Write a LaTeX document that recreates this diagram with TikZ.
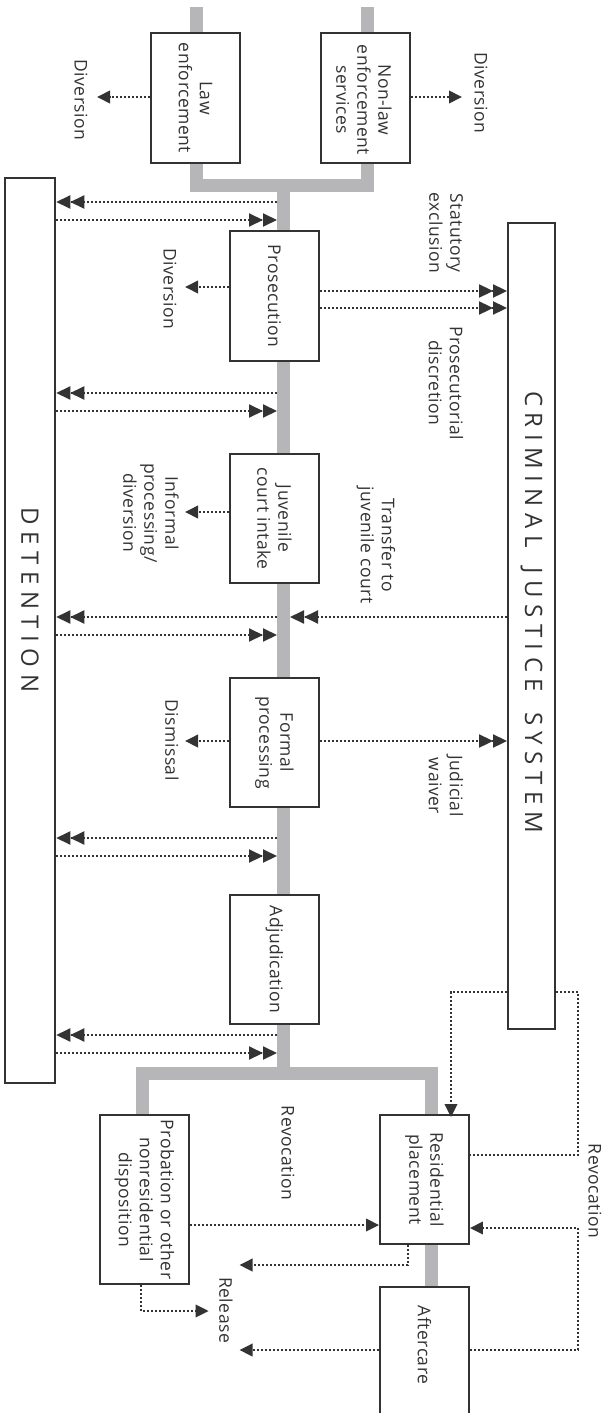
\documentclass[tikz,border=0pt]{standalone}
\usepackage{fontspec}
\setmainfont{Open Sans}
\newfontfamily\bodyfont[LetterSpace=3]{Open Sans}
\usetikzlibrary{arrows.meta}
\definecolor{ink}{HTML}{333333}
\definecolor{pipe}{HTML}{B6B6B9}
\definecolor{txt}{HTML}{333333}
\newcommand{\lsp}{\kern6.5pt}
\tikzset{
  box/.style={draw=ink, line width=1.9pt, fill=white, minimum width=89pt, inner sep=0pt},
  pipeline/.style={draw=pipe, line width=13pt, line join=miter},
  flow/.style={draw=ink, line width=2pt, dash pattern=on 2pt off 2pt},
  one/.style={-{Triangle[length=13pt,width=12.5pt]}},
  two/.style={-{Triangle[length=14pt,width=13pt] Triangle[length=14pt,width=13pt]}},
  lbl/.style={text=txt, font=\bodyfont\fontsize{17.5}{21}\selectfont, align=center, rotate=-90, inner sep=0pt},
  big/.style={text=txt, font=\fontsize{24}{28}\selectfont, rotate=-90, inner sep=0pt},
}
\begin{document}
\begin{tikzpicture}[x=1pt,y=-1pt]
\useasboundingbox (0,0) rectangle (606,1413);
\clip (0,0) rectangle (606,1413);
% pipeline coordinates
\coordinate (top1) at (196,7);
\coordinate (top2) at (367,7);
\coordinate (j1) at (283.5,185.5);
\coordinate (j2) at (283.5,1073);
\coordinate (bl) at (142,1120);
\coordinate (br) at (431.5,1300);
\draw[pipeline] (top1) -- (top1 |- j1) -- (top2 |- j1) -- (top2);
\draw[pipeline] (j1) -- (j2);
\draw[pipeline] (bl) -- (bl |- j2) -- (br |- j2) -- (br);
% boxes
\node[box, minimum height=130pt] (law) at (195.5,98) {};
\node[box, minimum height=130pt] (nonlaw) at (365.5,98) {};
\node[box, minimum height=130pt] (pros) at (274.5,296) {};
\node[box, minimum height=129pt] (juv) at (274.5,518.5) {};
\node[box, minimum height=129pt] (formal) at (274.5,742.5) {};
\node[box, minimum height=129pt] (adj) at (274.5,959.5) {};
\node[box, minimum height=169pt] (prob) at (144.3,1199.5) {};
\node[box, minimum height=129pt] (resid) at (424.5,1179.5) {};
\node[box, minimum height=143pt] (after) at (424.5,1358.5) {};
\node[box, minimum width=50.6pt, minimum height=905pt] (det) at (30,630.5) {};
\node[box, minimum width=47pt, minimum height=806pt] (cjs) at (531.5,626) {};
% box texts
\node[lbl] (tlaw) at (law.center) {Law\\enforcement};
\node[lbl] (tnonlaw) at (364,100) {Non-law\\enforcement\\services};
\node[lbl] (tpros) at (pros.center) {Prosecution};
\node[lbl] (tjuv) at (juv.center) {Juvenile\\court intake};
\node[lbl] (tformal) at (formal.center) {Formal\\processing};
\node[lbl] (tadj) at (adj.center) {Adjudication};
\node[lbl] (tprob) at (prob.center) {Probation or other\\nonresidential\\disposition};
\node[lbl] (tresid) at (resid.center) {Residential\\placement};
\node[lbl] (tafter) at (424.5,1345) {Aftercare};
\node[big] (tdet) at (30,600) {D\lsp E\lsp T\lsp E\lsp N\lsp T\lsp I\lsp O\lsp N};
\node[big] (tcjs) at (531.5,612) {C\lsp R\lsp I\lsp M\lsp I\lsp N\lsp A\lsp L\kern20pt J\lsp U\lsp S\lsp T\lsp I\lsp C\lsp E\kern20pt S\lsp Y\lsp S\lsp T\lsp E\lsp M};
% free labels
\node[lbl] (ldiv1) at (81,100) {Diversion};
\node[lbl] (ldiv2) at (481,93) {Diversion};
\node[lbl] (ldiv3) at (170,289) {Diversion};
\node[lbl] (lstat) at (446,233) {Statutory\\exclusion};
\node[lbl] (lpdisc) at (446,383) {Prosecutorial\\discretion};
\node[lbl] (linf) at (151,513) {Informal\\processing/\\diversion};
\node[lbl] (ltrans) at (376,545) {Transfer to\\juvenile court};
\node[lbl] (ldism) at (172,740) {Dismissal};
\node[lbl] (ljud) at (446,786) {Judicial\\waiver};
\node[lbl] (lrev1) at (288,1153) {Revocation};
\node[lbl] (lrev2) at (595,1191) {Revocation};
\node[lbl] (lrel) at (226,1310) {Release};
% diversion arrows
\coordinate (d1) at (97,97);
\coordinate (d2) at (462,97);
\coordinate (d3) at (185,287);
\coordinate (d4) at (185,512);
\coordinate (d5) at (185,741);
\draw[flow,one] (law.west |- d1) -- (d1);
\draw[flow,one] (nonlaw.east |- d2) -- (d2);
\draw[flow,one] (pros.west |- d3) -- (d3);
\draw[flow,one] (juv.west |- d4) -- (d4);
\draw[flow,one] (formal.west |- d5) -- (d5);
% detention exchanges
\foreach \ya/\yb [count=\i] in {202/220, 393/411, 617/635, 838/856, 1035/1053}{
  \coordinate (a\i) at (277,\ya);
  \coordinate (b\i) at (277,\yb);
  \draw[flow,two] (a\i) -- (det.east |- a\i);
  \draw[flow,two] (det.east |- b\i) -- (b\i);
}
% criminal justice system exchanges
\coordinate (p1) at (0,291);
\coordinate (p2) at (0,308);
\coordinate (p3) at (290,617);
\coordinate (p4) at (0,741);
\draw[flow,two] (pros.east |- p1) -- (cjs.west |- p1);
\draw[flow,two] (pros.east |- p2) -- (cjs.west |- p2);
\draw[flow,two] (cjs.west |- p3) -- (p3);
\draw[flow,two] (formal.east |- p4) -- (cjs.west |- p4);
% dispositions
\coordinate (r1) at (451,992);
\coordinate (r2) at (578,992);
\coordinate (r3) at (578,1155);
\coordinate (r4) at (578,1228);
\coordinate (r5) at (578,1350);
\draw[flow,one] (cjs.west |- r1) -- (r1) -- ([yshift=-3pt]r1 |- resid.north);
\draw[flow] (cjs.east |- r2) -- (r2) -- (r3) -- (resid.east |- r3);
\draw[flow,one] (after.east |- r5) -- (r5) -- (r4) -- (resid.east |- r4);
\coordinate (q1) at (0,1225);
\draw[flow,one] (prob.east |- q1) -- (resid.west |- q1);
\coordinate (q2) at (407.5,1265);
\coordinate (q3) at (239.5,1265);
\draw[flow,one] (q2 |- resid.south) -- (q2) -- (q3);
\coordinate (q4) at (141,1311);
\coordinate (q5) at (208.6,1311);
\draw[flow,one] (q4 |- prob.south) -- (q4) -- (q5);
\coordinate (q6) at (239.5,1350);
\draw[flow,one] (after.west |- q6) -- (q6);
\end{tikzpicture}
\end{document}
